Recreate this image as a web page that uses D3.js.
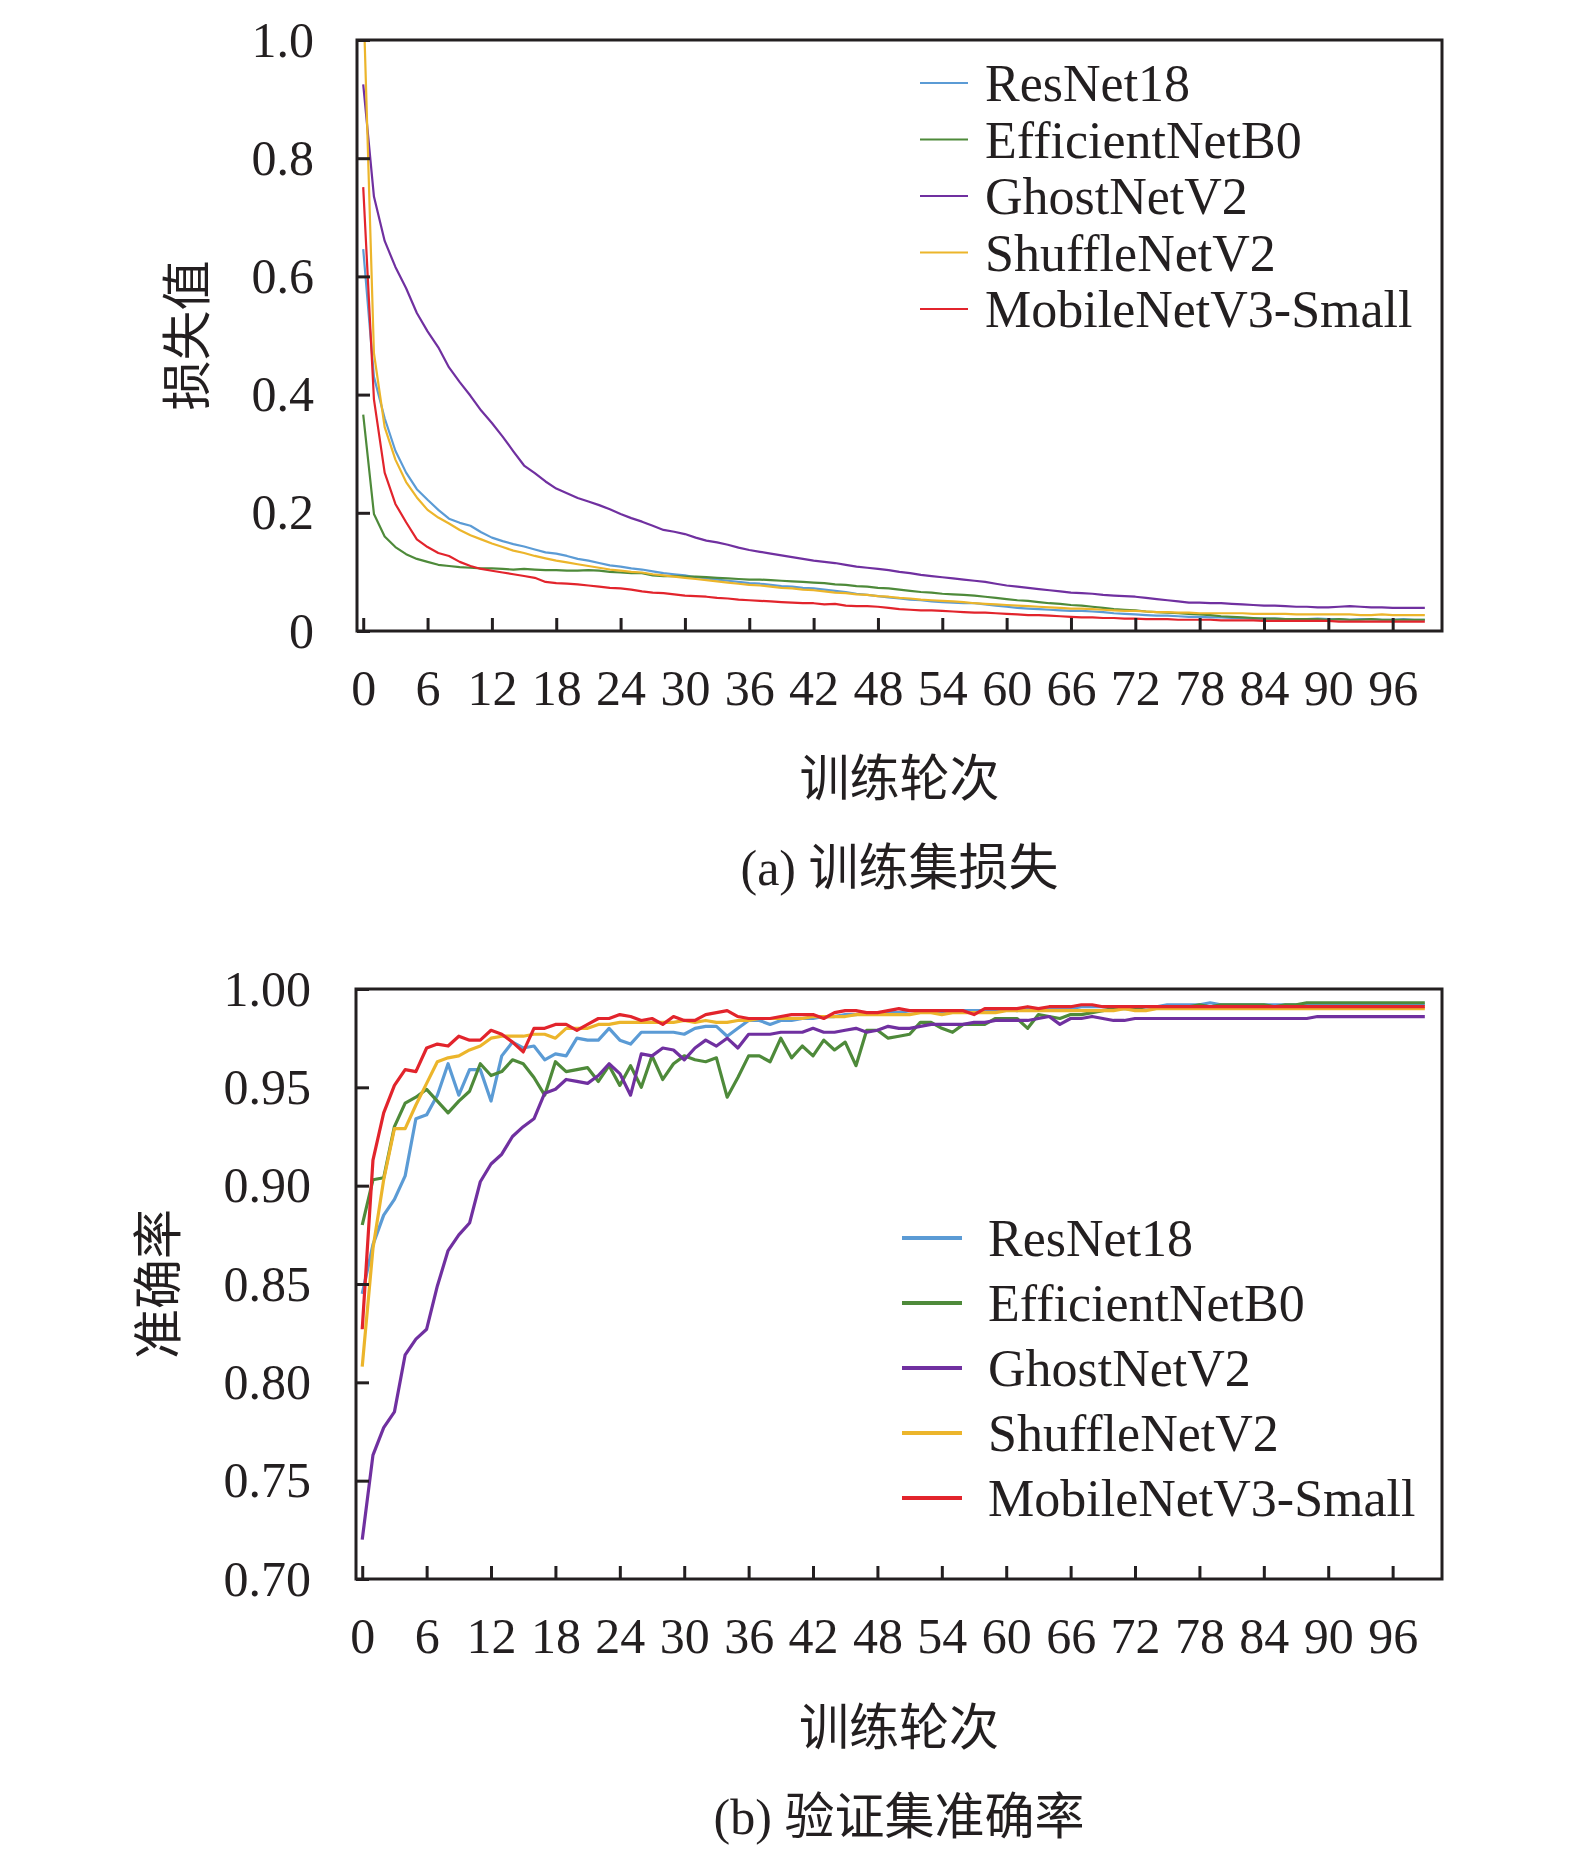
<!DOCTYPE html>
<html lang="zh">
<head>
<meta charset="UTF-8">
<title>训练集损失与验证集准确率</title>
<script src="https://d3js.org/d3.v7.min.js"></script>
<style>
    body{margin:0;background:#fff;}
    text{font-family:"Liberation Serif","Times New Roman","Noto Sans CJK SC",serif;fill:#231f20;}
    .cjk{font-family:"Liberation Serif","Noto Sans CJK SC",serif;}
</style>
</head>
<body>
<svg width="1575" height="1860"></svg>
<script>
// ---- data ----
const epochs = d3.range(0, 100);
const models = ["ResNet18", "EfficientNetB0", "GhostNetV2", "ShuffleNetV2", "MobileNetV3-Small"];
const colors = ["#5b9bd5", "#4e8a3a", "#7030a0", "#ecb52b", "#e2242c"];
const xTicks = [0, 6, 12, 18, 24, 30, 36, 42, 48, 54, 60, 66, 72, 78, 84, 90, 96];
const lossTicks = [0, 0.2, 0.4, 0.6, 0.8, 1.0];
const lossTickLabels = ["0", "0.2", "0.4", "0.6", "0.8", "1.0"];
const accTicks = [0.70, 0.75, 0.80, 0.85, 0.90, 0.95, 1.00];
const accTickLabels = ["0.70", "0.75", "0.80", "0.85", "0.90", "0.95", "1.00"];

const lossResNet18 = [
 0.646,0.430,0.360,0.305,0.268,0.240,0.222,0.205,0.190,0.183,
 0.178,0.167,0.158,0.152,0.147,0.143,0.138,0.133,0.131,0.127,
 0.122,0.119,0.115,0.111,0.109,0.106,0.104,0.101,0.098,0.096,
 0.094,0.091,0.089,0.087,0.085,0.083,0.081,0.080,0.078,0.076,
 0.075,0.073,0.072,0.070,0.068,0.066,0.063,0.061,0.059,0.057,
 0.055,0.053,0.052,0.050,0.049,0.048,0.047,0.047,0.045,0.043,
 0.041,0.039,0.038,0.037,0.036,0.035,0.034,0.034,0.033,0.032,
 0.030,0.029,0.028,0.027,0.026,0.026,0.025,0.024,0.024,0.023,
 0.023,0.022,0.022,0.021,0.021,0.021,0.020,0.020,0.020,0.021,
 0.020,0.020,0.019,0.020,0.020,0.019,0.019,0.020,0.019,0.019];
const lossEfficientNetB0 = [
 0.366,0.198,0.160,0.142,0.130,0.122,0.117,0.112,0.110,0.108,
 0.107,0.106,0.106,0.105,0.104,0.105,0.104,0.103,0.103,0.102,
 0.102,0.103,0.102,0.100,0.099,0.098,0.098,0.094,0.093,0.093,
 0.092,0.092,0.091,0.090,0.089,0.088,0.087,0.087,0.086,0.085,
 0.084,0.083,0.082,0.081,0.079,0.078,0.076,0.075,0.073,0.072,
 0.070,0.068,0.066,0.065,0.063,0.062,0.061,0.060,0.058,0.056,
 0.054,0.052,0.051,0.049,0.047,0.046,0.044,0.043,0.041,0.039,
 0.037,0.036,0.035,0.033,0.032,0.031,0.030,0.029,0.028,0.027,
 0.025,0.024,0.023,0.022,0.021,0.021,0.020,0.020,0.020,0.020,
 0.019,0.020,0.019,0.019,0.020,0.019,0.019,0.019,0.019,0.019];
const lossGhostNetV2 = [
 0.925,0.735,0.660,0.616,0.580,0.538,0.507,0.480,0.446,0.421,
 0.398,0.373,0.352,0.329,0.304,0.280,0.267,0.253,0.241,0.233,
 0.225,0.219,0.213,0.206,0.198,0.191,0.185,0.178,0.171,0.168,
 0.164,0.158,0.153,0.150,0.146,0.141,0.137,0.134,0.131,0.128,
 0.125,0.122,0.119,0.117,0.115,0.112,0.109,0.107,0.105,0.103,
 0.100,0.098,0.095,0.093,0.091,0.089,0.087,0.085,0.083,0.080,
 0.077,0.075,0.073,0.071,0.069,0.067,0.065,0.064,0.063,0.061,
 0.060,0.059,0.058,0.056,0.054,0.052,0.050,0.048,0.048,0.047,
 0.047,0.046,0.045,0.044,0.043,0.043,0.042,0.041,0.041,0.040,
 0.040,0.041,0.042,0.041,0.040,0.040,0.039,0.039,0.039,0.039];
const lossShuffleNetV2 = [
 1.080,0.470,0.345,0.290,0.252,0.226,0.205,0.192,0.182,0.171,
 0.162,0.155,0.148,0.142,0.136,0.132,0.127,0.123,0.119,0.116,
 0.113,0.110,0.107,0.104,0.102,0.100,0.099,0.096,0.094,0.092,
 0.090,0.088,0.086,0.084,0.082,0.080,0.078,0.077,0.075,0.073,
 0.072,0.070,0.069,0.067,0.065,0.064,0.062,0.061,0.059,0.058,
 0.056,0.055,0.053,0.052,0.051,0.050,0.049,0.047,0.046,0.045,
 0.044,0.043,0.042,0.041,0.040,0.039,0.038,0.038,0.037,0.036,
 0.035,0.034,0.034,0.033,0.032,0.032,0.031,0.031,0.030,0.030,
 0.030,0.030,0.030,0.029,0.029,0.029,0.029,0.028,0.028,0.028,
 0.028,0.028,0.028,0.027,0.027,0.028,0.027,0.027,0.027,0.027];
const lossMobileNetV3 = [
 0.751,0.392,0.268,0.215,0.184,0.155,0.142,0.132,0.127,0.117,
 0.110,0.105,0.102,0.099,0.096,0.093,0.090,0.083,0.081,0.080,
 0.079,0.077,0.075,0.073,0.072,0.070,0.067,0.065,0.064,0.062,
 0.060,0.059,0.058,0.056,0.055,0.053,0.052,0.051,0.050,0.049,
 0.048,0.047,0.047,0.045,0.046,0.043,0.042,0.042,0.041,0.039,
 0.037,0.036,0.035,0.035,0.034,0.033,0.032,0.031,0.031,0.030,
 0.029,0.028,0.027,0.027,0.026,0.025,0.024,0.023,0.023,0.022,
 0.022,0.021,0.021,0.020,0.020,0.020,0.019,0.019,0.019,0.019,
 0.018,0.018,0.018,0.018,0.017,0.017,0.017,0.017,0.017,0.017,
 0.017,0.016,0.016,0.016,0.016,0.016,0.016,0.016,0.016,0.016];

const accResNet18 = [
 0.845,0.870,0.885,0.893,0.905,0.934,0.936,0.946,0.962,0.946,
 0.959,0.959,0.943,0.966,0.973,0.970,0.971,0.964,0.967,0.966,
 0.975,0.974,0.974,0.980,0.974,0.972,0.978,0.978,0.978,0.978,
 0.977,0.980,0.981,0.981,0.976,0.980,0.984,0.984,0.982,0.984,
 0.984,0.985,0.985,0.986,0.986,0.987,0.987,0.988,0.988,0.988,
 0.988,0.989,0.989,0.989,0.988,0.989,0.989,0.989,0.989,0.989,
 0.990,0.989,0.990,0.990,0.990,0.990,0.990,0.991,0.991,0.991,
 0.991,0.991,0.991,0.991,0.991,0.992,0.992,0.992,0.992,0.993,
 0.992,0.992,0.992,0.992,0.992,0.992,0.992,0.992,0.992,0.992,
 0.992,0.992,0.992,0.992,0.992,0.992,0.992,0.992,0.992,0.992];
const accEfficientNetB0 = [
 0.880,0.903,0.904,0.930,0.942,0.945,0.949,0.943,0.937,0.943,
 0.948,0.962,0.956,0.958,0.964,0.962,0.955,0.946,0.963,0.958,
 0.959,0.960,0.953,0.961,0.951,0.961,0.950,0.966,0.954,0.962,
 0.966,0.964,0.963,0.965,0.945,0.955,0.966,0.966,0.963,0.975,
 0.965,0.971,0.966,0.974,0.969,0.973,0.961,0.979,0.979,0.975,
 0.976,0.977,0.983,0.983,0.980,0.978,0.982,0.982,0.982,0.985,
 0.985,0.985,0.980,0.987,0.986,0.985,0.987,0.987,0.988,0.989,
 0.990,0.990,0.990,0.991,0.991,0.991,0.991,0.991,0.992,0.991,
 0.992,0.992,0.992,0.992,0.992,0.991,0.992,0.992,0.993,0.993,
 0.993,0.993,0.993,0.993,0.993,0.993,0.993,0.993,0.993,0.993];
const accGhostNetV2 = [
 0.720,0.763,0.777,0.785,0.814,0.822,0.827,0.849,0.867,0.875,
 0.881,0.902,0.911,0.916,0.925,0.930,0.934,0.947,0.949,0.954,
 0.953,0.952,0.956,0.962,0.957,0.946,0.967,0.966,0.970,0.969,
 0.964,0.970,0.974,0.971,0.975,0.970,0.977,0.977,0.977,0.978,
 0.978,0.978,0.980,0.978,0.978,0.979,0.980,0.978,0.979,0.981,
 0.980,0.980,0.981,0.982,0.982,0.982,0.982,0.983,0.983,0.984,
 0.984,0.984,0.984,0.985,0.986,0.982,0.985,0.985,0.986,0.985,
 0.984,0.984,0.985,0.985,0.985,0.985,0.985,0.985,0.985,0.985,
 0.985,0.985,0.985,0.985,0.985,0.985,0.985,0.985,0.985,0.986,
 0.986,0.986,0.986,0.986,0.986,0.986,0.986,0.986,0.986,0.986];
const accShuffleNetV2 = [
 0.808,0.868,0.903,0.929,0.929,0.941,0.952,0.963,0.965,0.966,
 0.969,0.971,0.975,0.976,0.976,0.976,0.977,0.977,0.975,0.980,
 0.980,0.980,0.982,0.982,0.983,0.983,0.983,0.983,0.983,0.983,
 0.984,0.983,0.984,0.983,0.983,0.984,0.984,0.985,0.985,0.985,
 0.985,0.985,0.986,0.986,0.986,0.986,0.987,0.987,0.987,0.987,
 0.987,0.987,0.988,0.988,0.987,0.988,0.988,0.988,0.988,0.988,
 0.989,0.989,0.989,0.989,0.989,0.989,0.989,0.989,0.989,0.989,
 0.989,0.990,0.989,0.989,0.990,0.990,0.990,0.990,0.990,0.990,
 0.990,0.990,0.990,0.990,0.990,0.990,0.990,0.990,0.990,0.990,
 0.990,0.990,0.990,0.990,0.990,0.990,0.990,0.990,0.990,0.990];
const accMobileNetV3 = [
 0.827,0.913,0.937,0.951,0.959,0.958,0.970,0.972,0.971,0.976,
 0.974,0.974,0.979,0.977,0.973,0.968,0.980,0.980,0.982,0.982,
 0.979,0.982,0.985,0.985,0.987,0.986,0.984,0.985,0.982,0.986,
 0.984,0.984,0.987,0.988,0.989,0.986,0.985,0.985,0.985,0.986,
 0.987,0.987,0.987,0.985,0.988,0.989,0.989,0.988,0.988,0.989,
 0.990,0.989,0.989,0.989,0.989,0.989,0.989,0.987,0.990,0.990,
 0.990,0.990,0.991,0.990,0.991,0.991,0.991,0.992,0.992,0.991,
 0.991,0.991,0.991,0.991,0.991,0.991,0.991,0.991,0.991,0.991,
 0.991,0.991,0.991,0.991,0.991,0.991,0.991,0.991,0.991,0.991,
 0.991,0.991,0.991,0.991,0.991,0.991,0.991,0.991,0.991,0.991];

const lossSeries = [lossResNet18, lossEfficientNetB0, lossGhostNetV2, lossShuffleNetV2, lossMobileNetV3];
const accSeries = [accResNet18, accEfficientNetB0, accGhostNetV2, accShuffleNetV2, accMobileNetV3];

// ---- drawing ----
let svg = d3.select('svg');
svg.append('rect').attr('width', 1575).attr('height', 1860).attr('fill', '#fff');

function drawPanel(p) {
    let xscale = d3.scaleLinear().domain([-0.58, 100.6]).range([p.left, p.right]);
    let yscale = d3.scaleLinear().domain(p.yDomain).range([p.bottom, p.top]);

    svg.append('clipPath').attr('id', p.id)
        .append('rect')
        .attr('x', p.left).attr('y', p.top)
        .attr('width', p.right - p.left).attr('height', p.bottom - p.top);

    let lines = svg.append('g').attr('clip-path', 'url(#' + p.id + ')');
    let line = d3.line()
        .x(function (d, i) { return xscale(epochs[i]) })
        .y(function (d) { return yscale(d) });
    lines.selectAll('path')
        .data(p.series)
        .join('path')
        .attr('d', function (d) { return line(d) })
        .attr('fill', 'none')
        .attr('stroke', function (d, i) { return colors[i] })
        .attr('stroke-width', p.lineWidth)
        .attr('stroke-linejoin', 'round');

    let xAxis = svg.append('g')
        .attr('transform', 'translate(0,' + p.bottom + ')')
        .call(d3.axisBottom(xscale).tickValues(xTicks).tickSize(-13).tickSizeOuter(0).tickPadding(38));
    let yAxis = svg.append('g')
        .attr('transform', 'translate(' + p.left + ',0)')
        .call(d3.axisLeft(yscale).tickValues(p.ticks).tickSize(-13).tickSizeOuter(0).tickPadding(p.yPad)
            .tickFormat(function (d, i) { return p.tickLabels[i] }));
    [xAxis, yAxis].forEach(function (a) {
        a.select('.domain').remove();
        a.selectAll('line').attr('stroke', '#231f20').attr('stroke-width', 3);
        a.selectAll('text').attr('font-size', 50).attr('fill', '#231f20')
            .style('font-family', '"Liberation Serif", serif');
    });

    svg.append('rect')
        .attr('x', p.left).attr('y', p.top)
        .attr('width', p.right - p.left).attr('height', p.bottom - p.top)
        .attr('fill', 'none').attr('stroke', '#231f20').attr('stroke-width', 3);

    // legend
    let lg = svg.append('g');
    models.forEach(function (m, i) {
        let y = p.legendY + i * p.legendStep;
        lg.append('line')
            .attr('x1', p.legendX1).attr('x2', p.legendX2)
            .attr('y1', y).attr('y2', y)
            .attr('stroke', colors[i]).attr('stroke-width', p.legendWidth);
        lg.append('text')
            .attr('x', p.legendText).attr('y', y).attr('dy', '0.35em')
            .attr('font-size', 52).text(m);
    });

    svg.append('text').attr('class', 'cjk')
        .attr('x', (p.left + p.right) / 2).attr('y', p.xTitleY).attr('dy', '0.35em')
        .attr('text-anchor', 'middle').attr('font-size', 50).text('训练轮次');
    svg.append('text').attr('class', 'cjk')
        .attr('transform', 'translate(' + p.yTitleX + ',' + ((p.top + p.bottom) / 2) + ') rotate(-90)')
        .attr('dy', '0.35em').attr('text-anchor', 'middle').attr('font-size', 50).text(p.yTitle);
    svg.append('text').attr('class', 'cjk')
        .attr('x', (p.left + p.right) / 2).attr('y', p.captionY).attr('dy', '0.35em')
        .attr('text-anchor', 'middle').attr('font-size', 50).text(p.caption);
}

drawPanel({
    id: 'clipLoss', left: 357, right: 1442, top: 40, bottom: 631,
    yDomain: [0, 1], ticks: lossTicks, tickLabels: lossTickLabels, yPad: 43,
    series: lossSeries, lineWidth: 2.2,
    legendY: 83, legendStep: 56.5, legendX1: 920, legendX2: 968, legendText: 985, legendWidth: 2.2,
    xTitleY: 778, yTitleX: 187, yTitle: '损失值', captionY: 867, caption: '(a) 训练集损失'
});
drawPanel({
    id: 'clipAcc', left: 356, right: 1442, top: 989, bottom: 1579,
    yDomain: [0.70, 1.00], ticks: accTicks, tickLabels: accTickLabels, yPad: 45,
    series: accSeries, lineWidth: 3.2,
    legendY: 1238, legendStep: 65, legendX1: 902, legendX2: 962, legendText: 988, legendWidth: 4,
    xTitleY: 1727, yTitleX: 158, yTitle: '准确率', captionY: 1816, caption: '(b) 验证集准确率'
});
</script>
</body>
</html>
